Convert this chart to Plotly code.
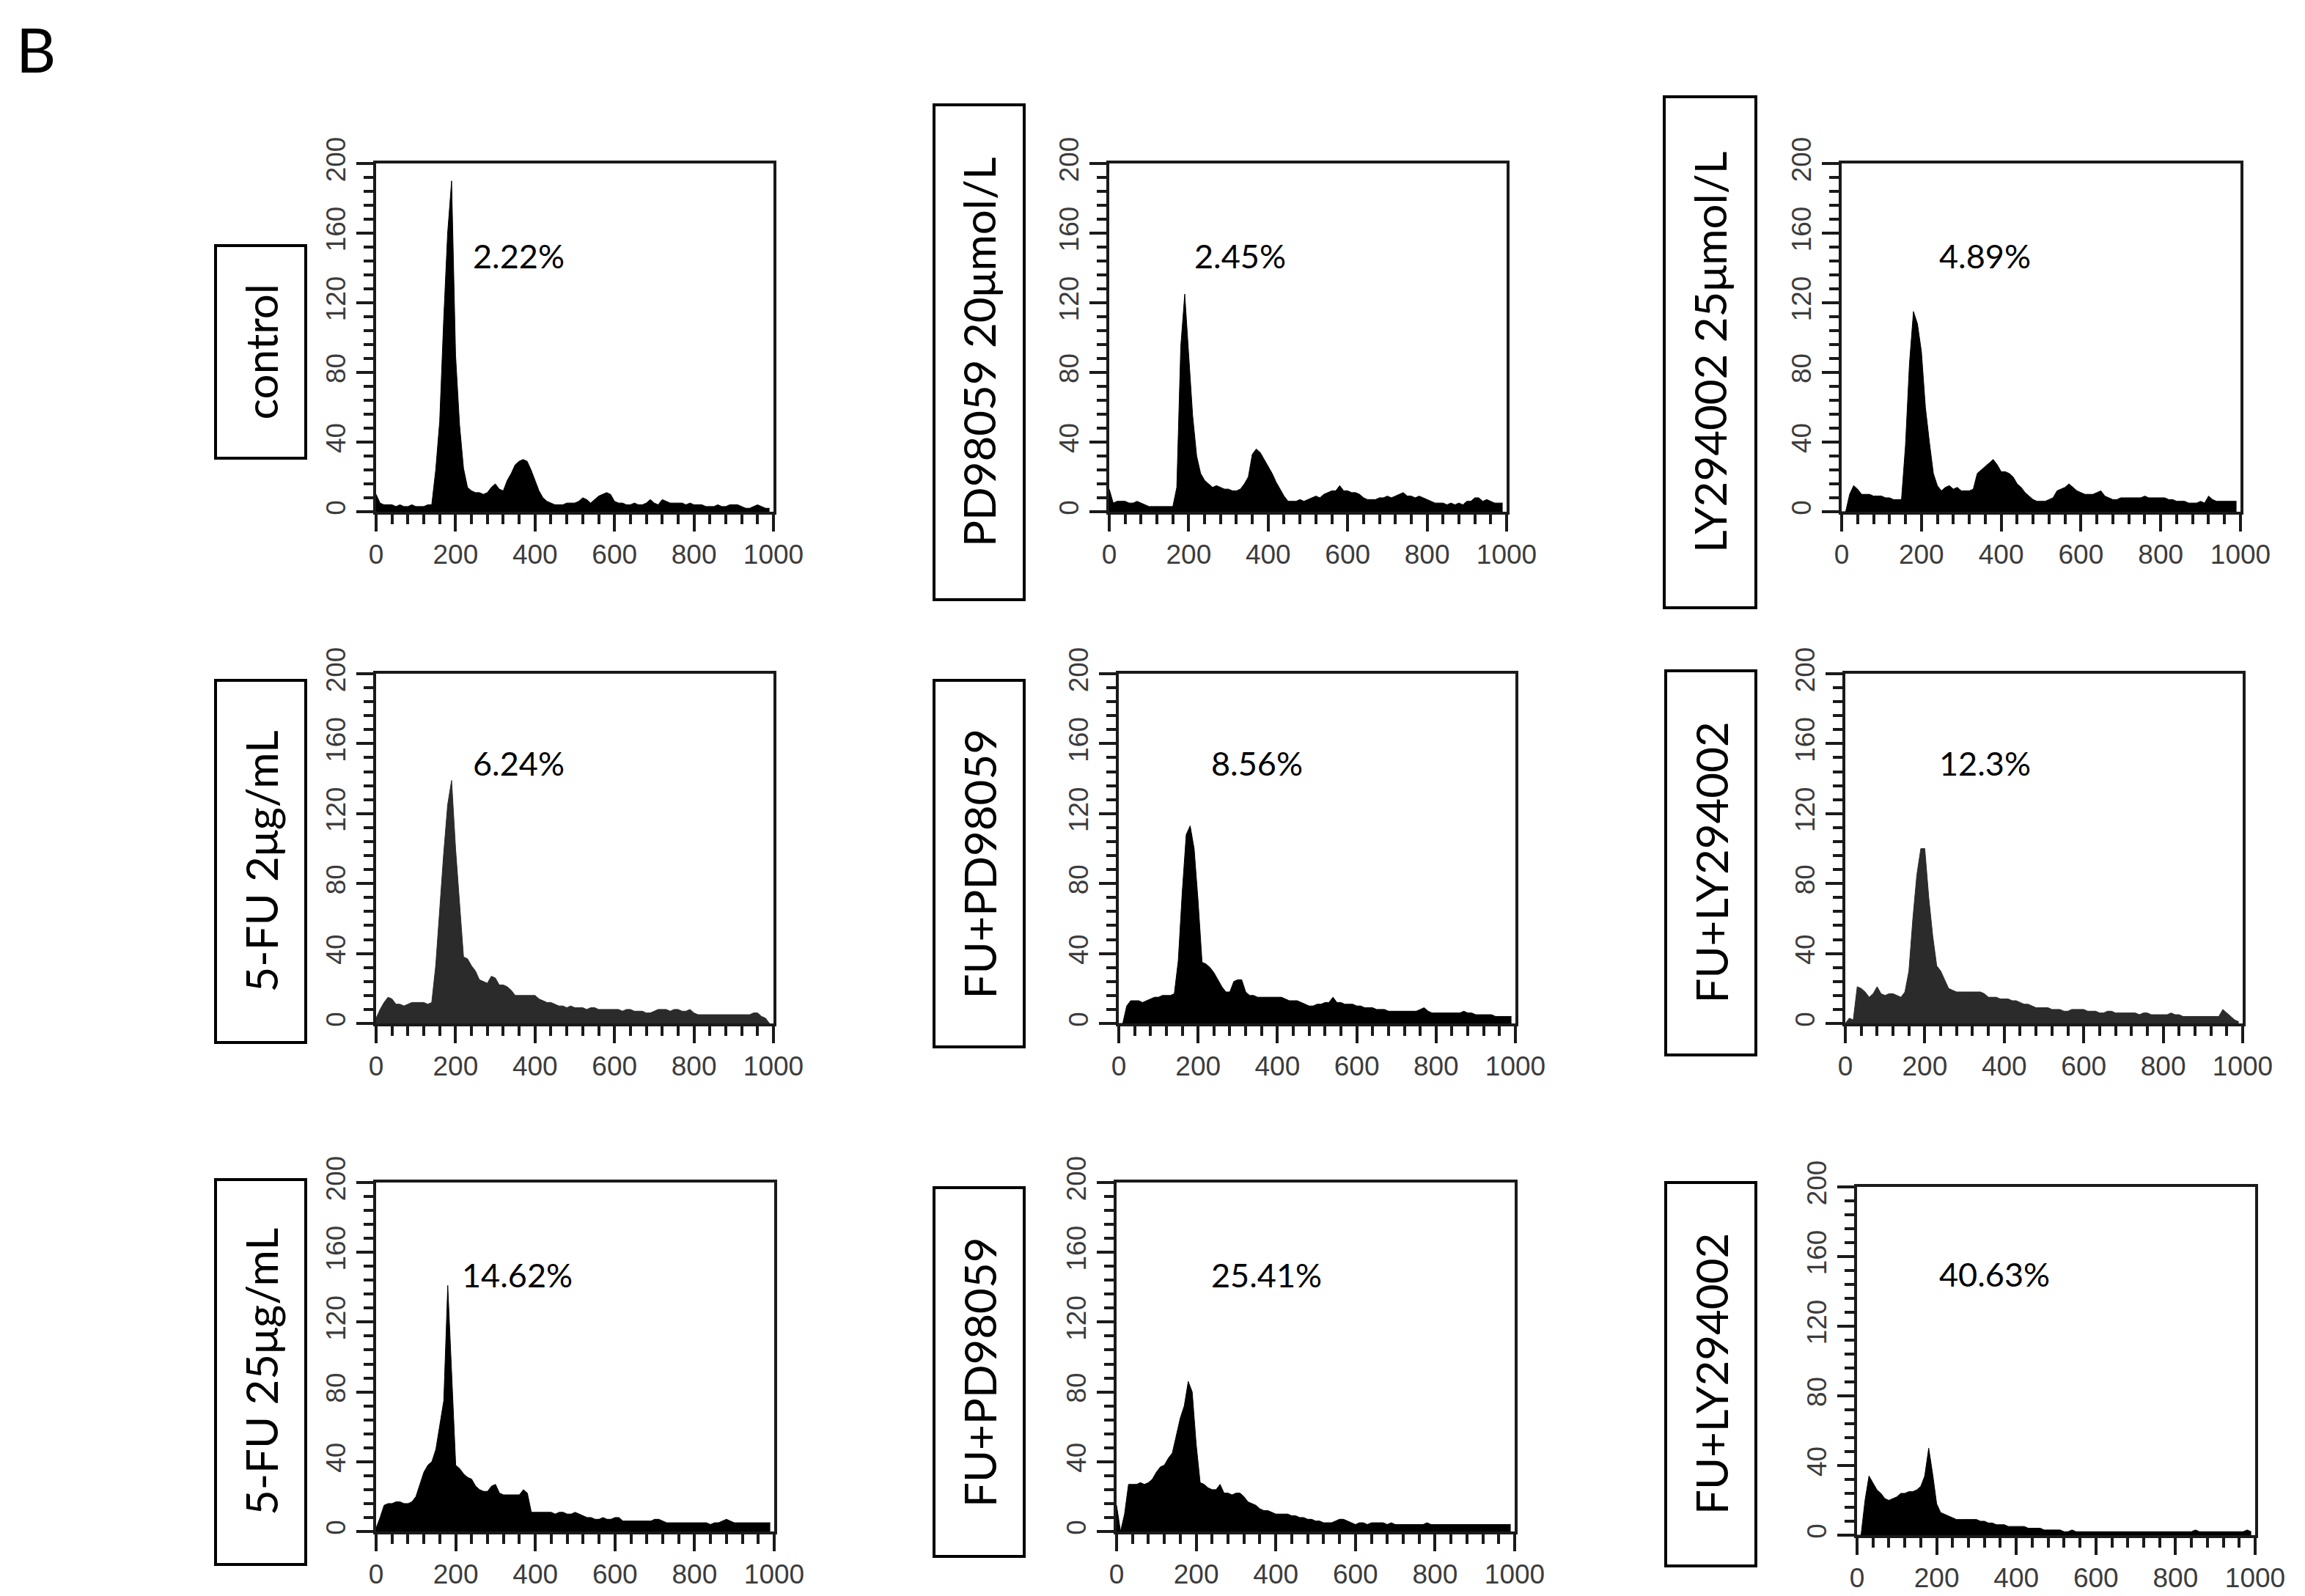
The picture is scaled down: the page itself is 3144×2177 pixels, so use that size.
import plotly.graph_objects as go

# DNA content channel (left edge of each 10-unit bin)
CHANNEL = list(range(0, 1000, 10))

# cell counts per bin
control = [10, 5, 4, 4, 4, 3, 4, 3, 3, 4, 3, 3, 3, 4, 4, 24, 52, 110, 160, 190,
           90, 50, 25, 14, 12, 11, 11, 10, 11, 14, 16, 13, 12, 18, 22, 27, 29, 30, 29, 24,
           18, 12, 8, 6, 5, 4, 4, 4, 5, 5, 5, 6, 8, 7, 5, 7, 9, 10, 11, 10,
           6, 5, 5, 4, 4, 5, 4, 4, 5, 7, 5, 4, 7, 6, 5, 5, 5, 5, 4, 5,
           4, 4, 4, 3, 3, 3, 4, 3, 3, 4, 4, 4, 3, 2, 2, 3, 4, 3, 2, 2]
pd98059 = [13, 5, 6, 6, 6, 5, 5, 6, 5, 4, 3, 3, 3, 3, 3, 3, 3, 14, 95, 125,
           90, 55, 32, 22, 18, 16, 14, 15, 14, 13, 13, 12, 12, 13, 16, 20, 33, 36, 34, 30,
           26, 22, 17, 13, 9, 6, 6, 6, 7, 6, 7, 8, 9, 8, 10, 11, 12, 12, 15, 12,
           12, 11, 11, 10, 8, 7, 7, 7, 8, 8, 9, 8, 9, 10, 11, 9, 9, 8, 9, 8,
           7, 6, 5, 5, 5, 4, 5, 4, 5, 4, 6, 6, 8, 8, 6, 7, 6, 5, 5, 5]
ly294002 = [0, 0, 10, 15, 13, 10, 10, 10, 9, 9, 9, 8, 8, 7, 7, 7, 38, 85, 115, 108,
            92, 60, 40, 22, 15, 12, 14, 15, 13, 14, 12, 12, 12, 13, 22, 24, 26, 28, 30, 27,
            23, 23, 22, 20, 16, 14, 11, 9, 7, 6, 6, 6, 7, 8, 12, 13, 14, 16, 14, 12,
            11, 10, 10, 10, 11, 12, 9, 8, 7, 7, 8, 8, 8, 8, 8, 8, 9, 8, 8, 8,
            8, 8, 7, 7, 6, 6, 6, 5, 5, 5, 6, 5, 9, 7, 6, 6, 6, 6, 6, 6]
fu_2 = [3, 8, 12, 15, 14, 11, 11, 10, 11, 12, 12, 12, 12, 11, 12, 33, 66, 97, 125, 139,
        100, 70, 38, 37, 33, 30, 25, 24, 23, 27, 26, 22, 22, 21, 19, 16, 16, 16, 16, 16,
        16, 14, 13, 12, 12, 11, 10, 10, 9, 10, 9, 9, 9, 8, 9, 9, 8, 8, 8, 8,
        8, 8, 7, 8, 8, 7, 7, 7, 6, 6, 7, 8, 8, 8, 7, 8, 8, 7, 7, 8,
        6, 5, 5, 5, 5, 5, 5, 5, 5, 5, 5, 5, 5, 5, 5, 6, 6, 4, 3, 0]
fu_pd_2 = [0, 0, 10, 13, 13, 13, 12, 13, 14, 15, 15, 16, 16, 16, 17, 36, 75, 108, 113, 100,
           70, 35, 34, 32, 29, 25, 21, 18, 18, 24, 25, 25, 18, 16, 16, 15, 15, 15, 15, 15,
           15, 15, 14, 13, 13, 13, 12, 11, 10, 10, 11, 11, 12, 12, 15, 12, 12, 11, 11, 11,
           10, 10, 9, 9, 9, 8, 8, 8, 7, 7, 7, 7, 7, 7, 7, 7, 8, 9, 7, 6,
           6, 6, 6, 6, 6, 6, 6, 7, 6, 6, 5, 5, 5, 5, 5, 4, 4, 4, 4, 4]
fu_ly_2 = [0, 3, 2, 21, 20, 18, 15, 17, 21, 17, 16, 17, 17, 16, 15, 18, 30, 60, 85, 100,
           100, 72, 50, 33, 30, 25, 20, 19, 18, 18, 18, 18, 18, 18, 18, 17, 15, 15, 15, 14,
           14, 14, 13, 13, 12, 11, 11, 10, 9, 9, 9, 9, 8, 8, 8, 7, 7, 8, 8, 8,
           8, 7, 7, 7, 6, 6, 7, 7, 6, 6, 6, 6, 6, 6, 5, 6, 6, 5, 5, 5,
           5, 5, 6, 5, 5, 4, 4, 4, 4, 4, 4, 4, 4, 4, 4, 8, 6, 4, 2, 1]
fu_25 = [2, 8, 15, 16, 16, 17, 17, 16, 16, 17, 20, 27, 34, 38, 40, 47, 62, 75, 141, 90,
         38, 36, 33, 31, 30, 26, 24, 23, 23, 26, 27, 22, 21, 21, 21, 21, 21, 24, 22, 11,
         11, 11, 11, 11, 11, 10, 11, 11, 10, 10, 11, 10, 9, 8, 8, 7, 7, 8, 7, 7,
         8, 8, 6, 6, 6, 6, 6, 6, 6, 6, 7, 7, 6, 5, 5, 5, 5, 5, 5, 5,
         5, 5, 5, 5, 4, 5, 5, 6, 7, 6, 5, 5, 5, 5, 5, 5, 5, 5, 5, 5]
fu_pd_25 = [15, 0, 10, 27, 27, 27, 28, 27, 28, 30, 34, 37, 38, 42, 45, 55, 65, 72, 86, 80,
            50, 28, 27, 25, 24, 24, 27, 22, 22, 21, 22, 22, 20, 17, 16, 15, 13, 12, 12, 11,
            10, 10, 10, 10, 9, 9, 8, 8, 7, 7, 6, 6, 5, 5, 5, 6, 7, 7, 6, 5,
            4, 5, 5, 4, 5, 5, 5, 5, 4, 5, 4, 4, 4, 4, 4, 4, 4, 4, 5, 4,
            4, 4, 4, 4, 4, 4, 4, 4, 4, 4, 4, 4, 4, 4, 4, 4, 4, 4, 4, 4]
fu_ly_25 = [0, 0, 20, 34, 30, 26, 24, 21, 20, 21, 22, 24, 24, 25, 25, 26, 28, 34, 50, 35,
            18, 13, 12, 11, 10, 9, 9, 9, 9, 9, 9, 8, 8, 7, 7, 6, 6, 6, 5, 5,
            5, 5, 5, 4, 4, 4, 4, 3, 3, 3, 3, 3, 2, 2, 3, 2, 2, 2, 2, 2,
            2, 2, 2, 2, 2, 2, 2, 2, 2, 2, 2, 2, 2, 2, 2, 2, 2, 2, 2, 2,
            2, 2, 2, 2, 2, 3, 2, 2, 2, 2, 2, 2, 2, 2, 2, 2, 2, 2, 3, 2]

SERIES = [control, pd98059, ly294002, fu_2, fu_pd_2, fu_ly_2, fu_25, fu_pd_25, fu_ly_25]
LABELS = ["control", "PD98059 20μmol/L", "LY294002 25μmol/L",
          "5-FU 2μg/mL", "FU+PD98059", "FU+LY294002",
          "5-FU 25μg/mL", "FU+PD98059", "FU+LY294002"]
PERCENTS = ["2.22%", "2.45%", "4.89%", "6.24%", "8.56%", "12.3%",
            "14.62%", "25.41%", "40.63%"]

W, H = 3144, 2177

# plot frames in pixels: left, right, top, bottom
frames = [
    (505, 1047, 215, 690), (1505, 2047, 215, 690), (2504, 3048, 215, 690),
    (505, 1047, 911, 1388), (1518, 2059, 911, 1388), (2509, 3051, 911, 1388),
    (505, 1048, 1605, 2081), (1515, 2058, 1605, 2081), (2525, 3068, 1611, 2086),
]
# label boxes in pixels: left, right, top, bottom
boxes = [
    (286, 409, 327, 617), (1266, 1389, 135, 810), (2262, 2387, 124, 821),
    (286, 409, 920, 1414), (1266, 1389, 920, 1420), (2264, 2387, 907, 1431),
    (286, 409, 1601, 2126), (1266, 1389, 1612, 2115), (2264, 2387, 1605, 2128),
]
# where the percentage sits (data coords)
pct_pos = [(358, 147), (330, 147), (360, 147), (358, 149), (349, 149),
           (352, 149), (354, 147), (376, 147), (346, 150)]
fills = ["#000000", "#000000", "#000000", "#2b2b2b", "#000000", "#2b2b2b",
         "#000000", "#000000", "#000000"]

AXC = "#1a1a1a"
tickfont = dict(family="Liberation Sans, Arial", size=37, color="#3c3c3c")

fig = go.Figure()
layout = dict(width=W, height=H, autosize=False, margin=dict(l=0, r=0, t=0, b=0, pad=0),
              template="none",
              paper_bgcolor="white", plot_bgcolor="white", showlegend=False,
              shapes=[], annotations=[])

for i, (vals, fr, bx) in enumerate(zip(SERIES, frames, boxes)):
    n = i + 1
    xa = "x" if n == 1 else f"x{n}"
    ya = "y" if n == 1 else f"y{n}"
    fig.add_trace(go.Scatter(x=CHANNEL, y=vals, xaxis=xa, yaxis=ya,
                             mode="lines", line=dict(color=fills[i], width=1),
                             fill="tozeroy", fillcolor=fills[i], hoverinfo="skip"))
    l, r, t, b = fr
    layout["xaxis" if n == 1 else f"xaxis{n}"] = dict(
        domain=[l / W, r / W], anchor=ya, range=[0, 1000], automargin=False,
        tickmode="linear", tick0=0, dtick=200, ticks="outside", ticklen=23, tickwidth=4,
        tickcolor=AXC, showline=True, linewidth=4, linecolor=AXC, mirror=True,
        showgrid=False, zeroline=False, tickfont=tickfont,
        minor=dict(dtick=40, tick0=0, ticks="outside", ticklen=13, tickwidth=4,
                   tickcolor=AXC, showgrid=False),
    )
    layout["yaxis" if n == 1 else f"yaxis{n}"] = dict(
        domain=[1 - b / H, 1 - t / H], anchor=xa, range=[0, 200], automargin=False,
        tickmode="linear", tick0=0, dtick=40, ticks="outside", ticklen=23, tickwidth=4,
        tickcolor=AXC, showline=True, linewidth=4, linecolor=AXC, mirror=True,
        showgrid=False, zeroline=False, tickfont=tickfont, tickangle=-90,
        minor=dict(dtick=8, tick0=0, ticks="outside", ticklen=13, tickwidth=4,
                   tickcolor=AXC, showgrid=False),
    )
    bl, br, bt, bb = bx
    layout["shapes"].append(dict(type="rect", xref="paper", yref="paper",
                                 x0=bl / W, x1=br / W, y0=1 - bb / H, y1=1 - bt / H,
                                 line=dict(color="black", width=4)))
    layout["annotations"].append(dict(
        xref="paper", yref="paper", x=(bl + br) / 2 / W, y=1 - (bt + bb) / 2 / H,
        text=LABELS[i], textangle=-90, showarrow=False, xanchor="center", yanchor="middle",
        font=dict(family="Lato", size=60, color="black")))
    px, py = pct_pos[i]
    layout["annotations"].append(dict(
        xref=xa, yref=ya, x=px, y=py, text=PERCENTS[i], showarrow=False,
        xanchor="center", yanchor="middle",
        font=dict(family="Lato", size=45, color="black")))

layout["annotations"].append(dict(
    xref="paper", yref="paper", x=12 / W, y=1 - 6 / H, text="B", showarrow=False,
    xanchor="left", yanchor="top", font=dict(family="Lato", size=84, color="black")))

fig.update_layout(**layout)
fig.write_html("out.html")
